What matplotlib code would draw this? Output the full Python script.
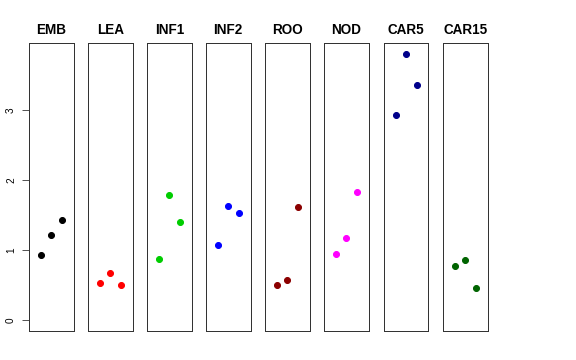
import matplotlib
matplotlib.use('Agg')
import matplotlib.pyplot as plt

plt.rcParams['font.family'] = ['Liberation Sans', 'DejaVu Sans']

grupos = ['EMB', 'LEA', 'INF1', 'INF2', 'ROO', 'NOD', 'CAR5', 'CAR15']
cores = ['black', 'red', '#00CD00', 'blue', '#8B0000', 'magenta', '#00008B', '#006400']
posicoes = [1, 2, 3]
valores = {
    'EMB': [0.94, 1.22, 1.44],
    'LEA': [0.53, 0.68, 0.51],
    'INF1': [0.87, 1.79, 1.41],
    'INF2': [1.08, 1.64, 1.54],
    'ROO': [0.50, 0.57, 1.62],
    'NOD': [0.95, 1.17, 1.83],
    'CAR5': [2.94, 3.80, 3.36],
    'CAR15': [0.77, 0.86, 0.46],
}
y_ticks = [0, 1, 2, 3]

W, H = 576, 360
fig = plt.figure(figsize=(W / 72, H / 72), dpi=72)

# posicoes dos paineis em pixeis
lefts = [29, 88, 147, 206, 265, 324, 384, 443]
largura = 44.5
topo, base = 43, 331

ymax = 3.81
for i, nome in enumerate(grupos):
    ax = fig.add_axes([lefts[i] / W, 1 - base / H, largura / W, (base - topo) / H])
    ax.plot(posicoes, valores[nome], 'o', color=cores[i], markersize=6)
    ax.set_xlim(-0.16, 4.16)
    ax.set_ylim(-0.04 * ymax, 1.04 * ymax)
    ax.set_xticks([])
    for s in ax.spines.values():
        s.set_linewidth(1)
        s.set_color('#333333')
    ax.set_title(nome, fontsize=13.5, fontweight='bold', pad=9)
    if i == 0:
        ax.set_yticks(y_ticks)
        ax.set_yticklabels([str(t) for t in y_ticks], rotation=90, va='center', fontsize=10)
        ax.tick_params(axis='y', length=7, width=1, color='#555555', pad=6)
    else:
        ax.set_yticks([])

fig.savefig('out.png', dpi=72)
